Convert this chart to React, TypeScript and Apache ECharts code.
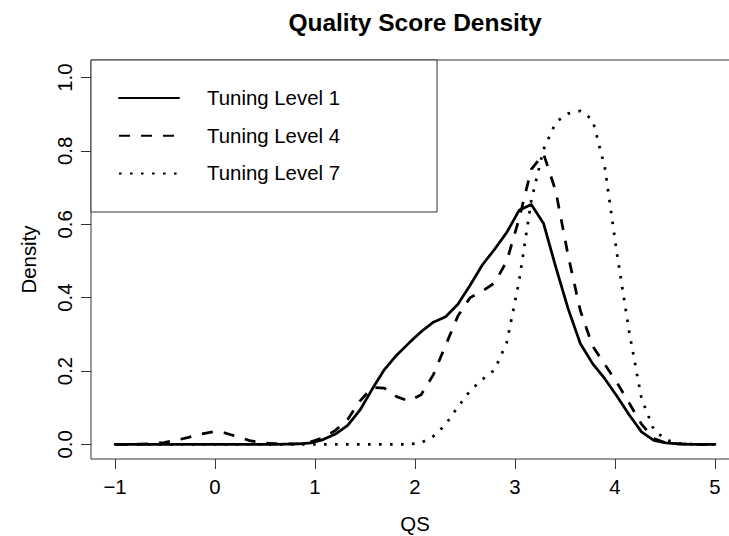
import React, { useEffect, useRef } from "react";
import * as echarts from "echarts";

// Evaluation grid of the kernel density estimates (50 points from -1 to 5)
const xs = [
  -1.0, -0.878, -0.755, -0.633, -0.51, -0.388, -0.265, -0.143, -0.02, 0.102,
  0.224, 0.347, 0.469, 0.592, 0.714, 0.837, 0.959, 1.082, 1.204, 1.327,
  1.449, 1.571, 1.694, 1.816, 1.939, 2.061, 2.184, 2.306, 2.429, 2.551,
  2.673, 2.796, 2.918, 3.041, 3.163, 3.286, 3.408, 3.531, 3.653, 3.776,
  3.898, 4.02, 4.143, 4.265, 4.388, 4.51, 4.633, 4.755, 4.878, 5.0,
];

const level1 = [
  0, 0, 0, 0, 0, 0, 0, 0, 0, 0,
  0, 0, 0, 0, 0.0005, 0.001, 0.004, 0.013, 0.028, 0.052,
  0.093, 0.15, 0.204, 0.243, 0.276, 0.307, 0.333, 0.348, 0.382, 0.434,
  0.489, 0.532, 0.578, 0.638, 0.654, 0.602, 0.483, 0.37, 0.275, 0.22,
  0.179, 0.131, 0.08, 0.034, 0.011, 0.004, 0.001, 0, 0, 0,
];

const level4 = [
  0, 0, 0.0005, 0.002, 0.005, 0.011, 0.019, 0.028, 0.034, 0.031,
  0.021, 0.01, 0.004, 0.002, 0.001, 0.002, 0.007, 0.018, 0.038, 0.068,
  0.118, 0.155, 0.153, 0.13, 0.118, 0.135, 0.19, 0.27, 0.35, 0.4,
  0.418, 0.44, 0.5, 0.615, 0.75, 0.792, 0.69, 0.515, 0.365, 0.268,
  0.218, 0.168, 0.112, 0.055, 0.016, 0.004, 0.001, 0, 0, 0,
];

const level7 = [
  0, 0, 0, 0, 0, 0, 0, 0, 0, 0,
  0, 0, 0, 0, 0, 0, 0, 0, 0, 0,
  0, 0, 0, 0, 0, 0.004, 0.022, 0.054, 0.102, 0.146,
  0.177, 0.203, 0.278, 0.445, 0.665, 0.805, 0.878, 0.902, 0.909, 0.885,
  0.755, 0.52, 0.305, 0.125, 0.04, 0.012, 0.003, 0.001, 0, 0,
];

const seriesNames = ["Tuning Level 1", "Tuning Level 4", "Tuning Level 7"];
const xTicks = [-1, 0, 1, 2, 3, 4, 5];
const yTicks = [0, 0.2, 0.4, 0.6, 0.8, 1.0];

const FONT = "'Liberation Sans', Arial, Helvetica, sans-serif";
const FS = 20.4;

export default function App() {
  const ref = useRef<HTMLDivElement>(null);

  useEffect(() => {
    if (!ref.current) return;
    const chart = echarts.init(ref.current, null, { renderer: "svg" });

    const pairs = (ys: number[]) => xs.map((x, i) => [x, ys[i]]);
    const lineBase = { color: "#000", width: 2.75, join: "round" as const };

    chart.setOption({
      animation: false,
      backgroundColor: "#fff",
      title: {
        text: "Quality Score Density",
        left: 415,
        top: 10,
        padding: 0,
        textAlign: "center",
        textStyle: {
          fontSize: 24.5,
          fontWeight: "bold",
          color: "#000",
          fontFamily: FONT,
          lineHeight: 24,
        },
      },
      grid: {
        left: 91,
        top: 60,
        width: 648,
        height: 399,
        outerBoundsMode: "none",
        containLabel: false,
        show: true,
        borderColor: "#333",
        borderWidth: 1,
        backgroundColor: "transparent",
      },
      legend: {
        data: seriesNames,
        orient: "vertical",
        left: 91,
        top: 60,
        itemWidth: 60,
        itemHeight: 20,
        itemGap: 17.7,
        padding: [28, 97, 28.6, 27],
        borderColor: "#333",
        borderWidth: 1,
        backgroundColor: "#fff",
        selectedMode: false,
        itemStyle: { opacity: 0 },
        textStyle: {
          fontSize: FS,
          color: "#000",
          fontFamily: FONT,
          padding: [0, 0, 0, 23],
          lineHeight: 20,
        },
      },
      xAxis: {
        type: "value",
        min: -1.24,
        max: 5.24,
        axisLine: { show: false, onZero: false },
        splitLine: { show: false },
        axisTick: {
          show: true,
          length: 10,
          customValues: xTicks,
          lineStyle: { color: "#333", width: 1 },
        },
        axisLabel: {
          customValues: xTicks,
          margin: 18,
          fontSize: FS,
          color: "#000",
          fontFamily: FONT,
          formatter: (v: number) => (v < 0 ? "\u2212" + Math.abs(v) : String(v)),
        },
        name: "QS",
        nameLocation: "middle",
        nameGap: 55,
        nameTextStyle: { fontSize: FS, color: "#000", fontFamily: FONT },
      },
      yAxis: {
        type: "value",
        min: -0.04,
        max: 1.048,
        axisLine: { show: false, onZero: false },
        splitLine: { show: false },
        axisTick: {
          show: true,
          length: 10,
          customValues: yTicks,
          lineStyle: { color: "#333", width: 1 },
        },
        axisLabel: {
          customValues: yTicks,
          rotate: 90,
          margin: 16,
          fontSize: FS,
          color: "#000",
          fontFamily: FONT,
          formatter: (v: number) => v.toFixed(1),
        },
        name: "Density",
        nameLocation: "middle",
        nameGap: 52,
        nameTextStyle: { fontSize: FS, color: "#000", fontFamily: FONT },
      },
      series: [
        {
          name: seriesNames[0],
          type: "line",
          data: pairs(level1),
          symbol: "none",
          showSymbol: false,
          lineStyle: { ...lineBase, type: "solid", cap: "round" },
        },
        {
          name: seriesNames[1],
          type: "line",
          data: pairs(level4),
          symbol: "none",
          showSymbol: false,
          lineStyle: { ...lineBase, type: [11, 11], cap: "butt" },
        },
        {
          name: seriesNames[2],
          type: "line",
          data: pairs(level7),
          symbol: "none",
          showSymbol: false,
          lineStyle: { ...lineBase, type: [2.6, 8.4], cap: "butt" },
        },
      ],
    });

    return () => chart.dispose();
  }, []);

  return (
    <div
      ref={ref}
      style={{ position: "absolute", left: 0, top: 0, width: 729, height: 536 }}
    />
  );
}
